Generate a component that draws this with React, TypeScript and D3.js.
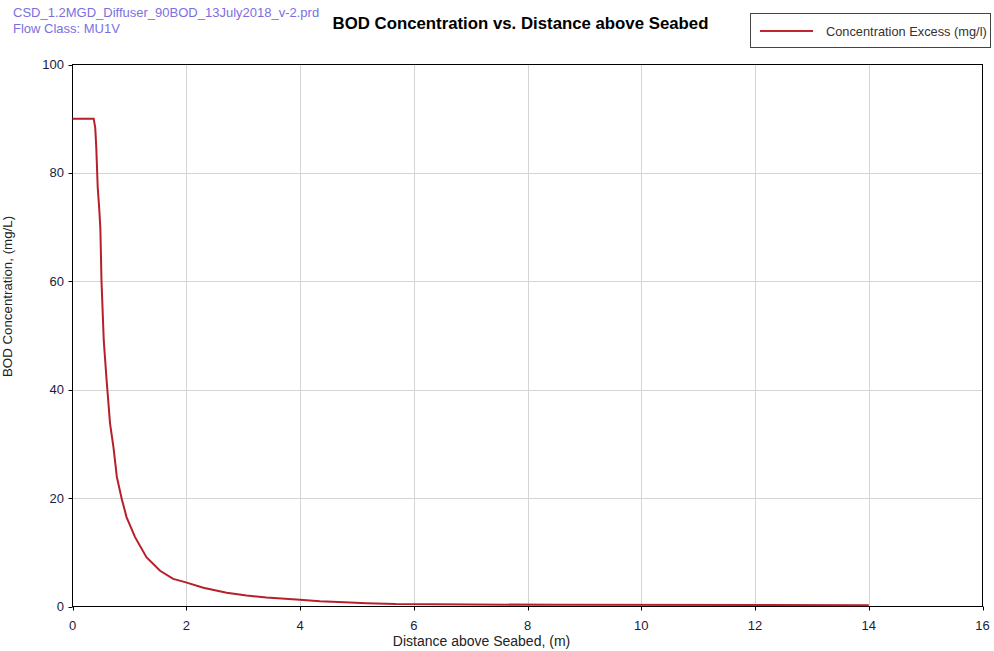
import React from "react";
import * as d3 from "d3";

const distance = [0, 0.373, 0.40, 0.418, 0.443, 0.47, 0.49, 0.51, 0.55, 0.60, 0.66, 0.72, 0.78, 0.865, 0.95, 1.10, 1.30, 1.54, 1.77, 1.98, 2.30, 2.71, 3.06, 3.41, 4.0, 4.35, 4.78, 5.17, 5.68, 8.53, 14];
const concentration = [90, 90, 88.3, 84.7, 77.4, 73.4, 69.7, 60, 49, 41.7, 33.8, 29.4, 23.9, 19.9, 16.5, 12.8, 9.1, 6.6, 5.1, 4.5, 3.45, 2.53, 2.03, 1.66, 1.24, 0.98, 0.8, 0.6, 0.45, 0.3, 0.25];
const xTicks = [0, 2, 4, 6, 8, 10, 12, 14, 16];
const yTicks = [0, 20, 40, 60, 80, 100];

const W = 994, H = 651;
const M = { left: 72.5, right: 982.5, top: 64.5, bottom: 606.5 };
const FONT = "'Liberation Sans', Arial, sans-serif";

export default function App() {
  const x = d3.scaleLinear().domain([0, 16]).range([M.left, M.right]);
  const y = d3.scaleLinear().domain([0, 100]).range([M.bottom, M.top]);
  const pts: [number, number][] = distance.map((d, i) => [d, concentration[i]]);
  const line = d3.line<[number, number]>().x(d => x(d[0])).y(d => y(d[1]));
  const path = line(pts);
  return (
    <svg width={W} height={H} style={{ position: "absolute", left: 0, top: 0, background: "#fff" }} fontFamily={FONT}>
      <rect x={0} y={0} width={W} height={H} fill="#fff" />
      <text x={13} y={17} fontSize={13} fill="#7b6fe0">CSD_1.2MGD_Diffuser_90BOD_13July2018_v-2.prd</text>
      <text x={13} y={33} fontSize={13} fill="#7b6fe0">Flow Class: MU1V</text>
      <text x={520.5} y={29} fontSize={16.8} fontWeight="bold" textAnchor="middle" fill="#000">BOD Concentration vs. Distance above Seabed</text>
      <rect x={750.5} y={13.5} width={240} height={34} fill="#fff" stroke="#444" strokeWidth={1} />
      <line x1={760} x2={813} y1={31} y2={31} stroke="#c0262d" strokeWidth={2} />
      <text x={826} y={36} fontSize={12.8} fill="#333">Concentration Excess (mg/l)</text>
      {xTicks.slice(1, -1).map(t => (
        <line key={"gx" + t} x1={Math.round(x(t)) + 0.5} x2={Math.round(x(t)) + 0.5} y1={M.top} y2={M.bottom} stroke="#d4d4d4" />
      ))}
      {yTicks.slice(1, -1).map(t => (
        <line key={"gy" + t} x1={M.left} x2={M.right} y1={Math.round(y(t)) + 0.5} y2={Math.round(y(t)) + 0.5} stroke="#d4d4d4" />
      ))}
      <rect x={M.left} y={M.top} width={M.right - M.left} height={M.bottom - M.top} fill="none" stroke="#000" strokeWidth={1} />
      {xTicks.map(t => (
        <g key={"tx" + t}>
          <line x1={Math.round(x(t)) + 0.5} x2={Math.round(x(t)) + 0.5} y1={M.bottom} y2={M.bottom + 4} stroke="#000" />
          <text x={x(t)} y={630} fontSize={13} textAnchor="middle" fill="#1c1c3c">{t}</text>
        </g>
      ))}
      {yTicks.map(t => (
        <g key={"ty" + t}>
          <line x1={M.left - 4} x2={M.left} y1={Math.round(y(t)) + 0.5} y2={Math.round(y(t)) + 0.5} stroke="#000" />
          <text x={64} y={y(t) + 4.5} fontSize={13} textAnchor="end" fill="#1c1c3c">{t}</text>
        </g>
      ))}
      <text x={481.5} y={645.5} fontSize={14} textAnchor="middle" fill="#222">Distance above Seabed, (m)</text>
      <text transform="translate(12,296.5) rotate(-90)" fontSize={13.3} textAnchor="middle" fill="#222">BOD Concentration, (mg/L)</text>
      <path d={path || ""} fill="none" stroke="#b5202a" strokeWidth={2} />
    </svg>
  );
}
